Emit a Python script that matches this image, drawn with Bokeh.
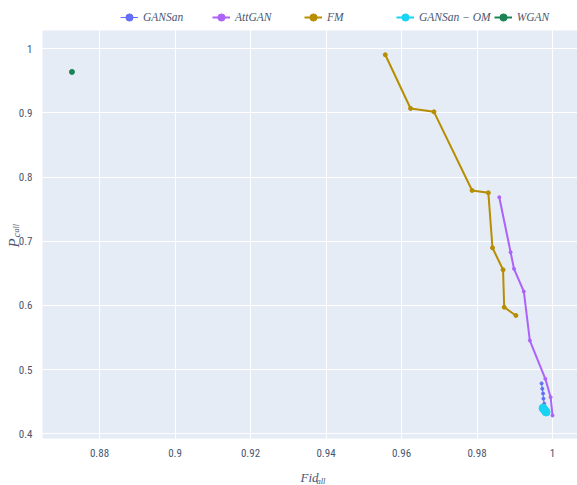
import math
from bokeh.plotting import figure
from bokeh.models import (Legend, LegendItem, FixedTicker, CustomJSTickFormatter,
                          Range1d, Label, LinearAxis, Grid, BoxAnnotation)
from bokeh.embed import file_html
from bokeh.resources import INLINE

# ---- data ----
gansan_x = [0.9971, 0.9973, 0.9975, 0.9976, 0.9978, 0.9980]
gansan_y = [0.4786, 0.4702, 0.4628, 0.4548, 0.4470, 0.4392]

attgan_x = [0.9859, 0.9889, 0.9898, 0.9924, 0.9940, 0.9981, 0.9995, 1.0000]
attgan_y = [0.7687, 0.6830, 0.6572, 0.6218, 0.5454, 0.4857, 0.4571, 0.4286]

fm_x = [0.9557, 0.9624, 0.9686, 0.9787, 0.9830, 0.9841, 0.9869, 0.9872, 0.9903]
fm_y = [0.9907, 0.9070, 0.9018, 0.7792, 0.7756, 0.6899, 0.6556, 0.5973, 0.5844]

gansan_om_x = [0.9975, 0.9979, 0.9983]
gansan_om_y = [0.4400, 0.4370, 0.4340]

wgan_x = [0.8727]
wgan_y = [0.9640]

x_ticks = [0.88, 0.90, 0.92, 0.94, 0.96, 0.98, 1.00]
y_ticks = [0.4, 0.5, 0.6, 0.7, 0.8, 0.9, 1.0]

series_names = ["GANSan", "AttGAN", "FM", "GANSan \u2212 OM", "WGAN"]
colors = ["#636EFA", "#AB63FA", "#B68E00", "#19D3F3", "#1C8356"]

# plot-area extent (axis ranges of the original plot area)
X_START, X_END = 0.8649, 1.0066
Y_START, Y_END = 0.3927, 1.0285

TEXT = "#4a5670"
TICK_FONT = "Liberation Sans Narrow, Roboto Condensed, Roboto, sans-serif"
MATH_FONT = "Liberation Serif, DejaVu Serif, serif"

# the frame covers the whole canvas; the plot area is drawn as a box inside it
p = figure(width=577, height=485, output_backend="svg", toolbar_location=None,
           x_range=Range1d(0.85377, 1.00662), y_range=Range1d(0.31946, 1.07527),
           x_axis_location=None, y_axis_location=None, min_border=0)
p.center = []
p.background_fill_color = "white"
p.border_fill_color = "white"
p.outline_line_color = None

p.add_layout(BoxAnnotation(left=X_START, right=X_END, bottom=Y_START, top=Y_END,
                           fill_color="#E5ECF6", fill_alpha=1, line_color=None,
                           level="image"))

fmt = CustomJSTickFormatter(code="return (Math.round(tick*100)/100).toString();")
xaxis = LinearAxis(fixed_location=Y_START, ticker=FixedTicker(ticks=x_ticks), formatter=fmt)
yaxis = LinearAxis(fixed_location=X_START, ticker=FixedTicker(ticks=y_ticks), formatter=fmt)
for ax in (xaxis, yaxis):
    ax.axis_line_color = None
    ax.major_tick_line_color = None
    ax.minor_tick_line_color = None
    ax.major_label_text_font = TICK_FONT
    ax.major_label_text_font_size = "11px"
    ax.major_label_text_color = TEXT
    ax.major_label_standoff = 4
p.add_layout(xaxis, "below")
p.add_layout(yaxis, "left")
p.add_layout(Grid(dimension=0, ticker=xaxis.ticker, grid_line_color="white", grid_line_width=1))
p.add_layout(Grid(dimension=1, ticker=yaxis.ticker, grid_line_color="white", grid_line_width=1))

items = []
specs = [
    (gansan_x, gansan_y, 1, 3),
    (attgan_x, attgan_y, 2, 3),
    (fm_x, fm_y, 2, 4),
    (gansan_om_x, gansan_om_y, 2, 8),
    (wgan_x, wgan_y, 2, 5),
]
for name, col, (xs, ys, lw, ms) in zip(series_names, colors, specs):
    l = p.line(xs, ys, line_color=col, line_width=lw)
    s = p.scatter(xs, ys, size=ms, fill_color=col, line_color=col)
    items.append(LegendItem(label=name, renderers=[l, s]))

legend = Legend(items=items, orientation="horizontal", location=(120, 459),
                glyph_width=18, glyph_height=18, label_height=18,
                label_width=66, label_standoff=5, spacing=3,
                padding=0, margin=0, border_line_color=None,
                background_fill_alpha=0,
                label_text_font=MATH_FONT, label_text_font_style="italic",
                label_text_font_size="11.5px", label_text_color=TEXT)
p.add_layout(legend)

# axis titles (math-style with subscripts)
def lab(x, y, t, size, angle=0.0):
    p.add_layout(Label(x=x, y=y, x_units="screen", y_units="screen", text=t,
                       angle=angle, text_font=MATH_FONT, text_font_style="italic",
                       text_font_size=size, text_color=TEXT,
                       text_align="left", text_baseline="alphabetic"))

lab(300, 8, "Fid", "13px")
lab(316, 5, "all", "8.5px")
rot = math.pi / 2
lab(13, 238, "P", "15px", rot)
lab(15, 248, "c", "11px", rot)
lab(16, 253, "all", "8px", rot)

open("out.html", "w").write(file_html(p, INLINE))
